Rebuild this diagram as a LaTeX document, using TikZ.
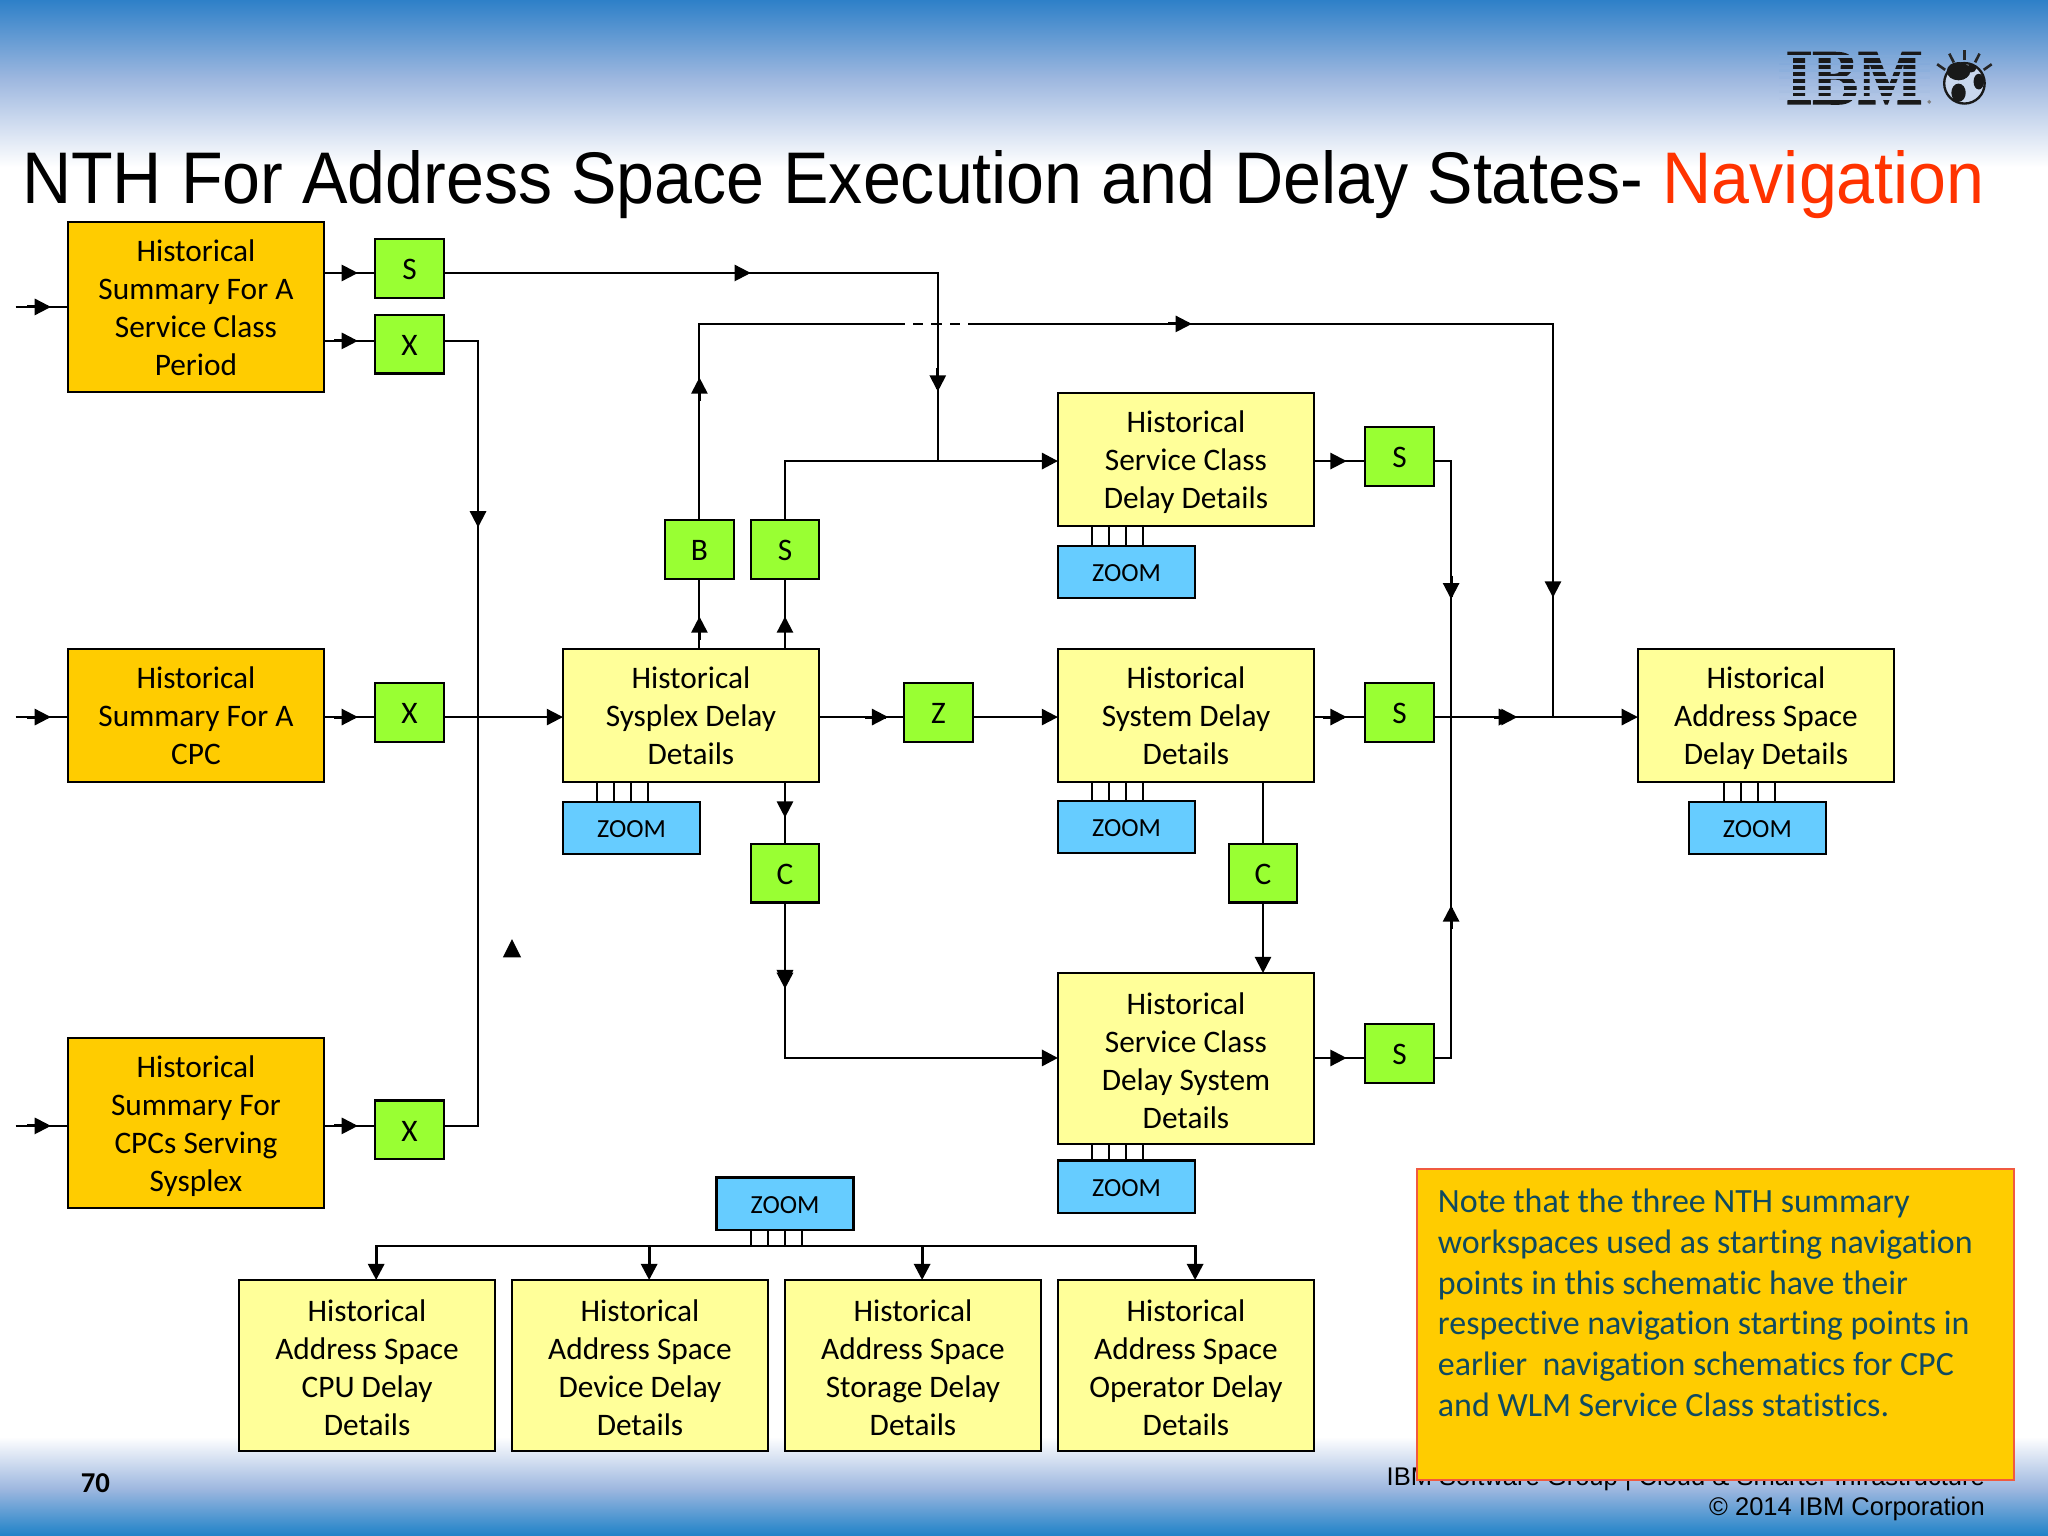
\documentclass[tikz,border=0pt]{standalone}
\usepackage{fontspec}
\setmainfont{Carlito}[Ligatures=NoCommon]
\newfontfamily\arialf{Liberation Sans}
\newfontfamily\titlef{Liberation Sans}[FakeStretch=0.932]
\newfontfamily\logof{Liberation Serif}[FakeStretch=0.87,FakeBold=2,BoldFont={* Bold}]
\usetikzlibrary{arrows.meta,decorations.markings,calc}
\definecolor{ibmtop}{HTML}{2E80C8}
\definecolor{ibmmid}{HTML}{9DB7DF}
\definecolor{ibmbot}{HTML}{1E82C8}
\definecolor{orangebox}{HTML}{FFCC00}
\definecolor{yellowbox}{HTML}{FFFF99}
\definecolor{greenbox}{HTML}{99FF33}
\definecolor{bluebox}{HTML}{66CCFF}
\definecolor{notered}{HTML}{F05A40}
\definecolor{noteink}{HTML}{0F4A60}
\definecolor{navred}{HTML}{FF3300}
\tikzset{
  bx/.style={draw=black,line width=.85pt,inner sep=0pt,outer sep=0pt,align=center,font=\fontsize{12}{14.5}\selectfont,text depth=0pt},
  threel/.style={text height=37.3pt},
  sumthree/.style={bx,threel,fill=orangebox,minimum width=98pt,minimum height=51pt},
  sumfour/.style={bx,text height=52.3pt,fill=orangebox,minimum width=98pt,minimum height=65pt},
  detthree/.style={bx,threel,fill=yellowbox,minimum width=98pt,minimum height=51pt},
  detfour/.style={bx,text height=53.3pt,fill=yellowbox,minimum width=98pt,minimum height=65.5pt},
  gbox/.style={bx,text height=8.6pt,fill=greenbox,minimum width=26.3pt,minimum height=22.5pt},
  zbox/.style={bx,text height=7.5pt,fill=bluebox,minimum width=52.5pt,minimum height=20pt,font=\fontsize{10}{12}\selectfont},
  conn/.style={draw=black,line width=.8pt},
  bold conn/.style={line width=1.1pt},
  arr/.style={conn,-{Triangle[length=6.2pt,width=6.2pt]}},
  tipat/.style={postaction={decorate,decoration={markings,mark=at position #1 with {\draw[line width=1.1pt] (-9pt,0) -- (-1pt,0); \arrow{Triangle[length=6.2pt,width=6.2pt]}}}}},
  zlink/.style={draw=black,line width=.7pt},
}
\begin{document}
\begin{tikzpicture}[x=0.5pt,y=-0.5pt]
\useasboundingbox (0,0) rectangle (1568,1176);
% background bands
\fill[white] (0,0) rectangle (1568,1176);
\shade[top color=ibmtop,bottom color=ibmmid] (0,0) rectangle (1568,60);
\shade[top color=ibmmid,bottom color=white] (0,60) rectangle (1568,128);
\shade[top color=white,bottom color=ibmmid] (0,1100) rectangle (1568,1140);
\shade[top color=ibmmid,bottom color=ibmbot] (0,1140) rectangle (1568,1176);
% logo
\node[anchor=base,inner sep=0pt,font=\logof\bfseries\fontsize{30}{30}\selectfont,text=black!90] (ibm) at (1419.5,79.5) {IBM};
\fill[ibmmid!72!ibmtop] (1362,42.1) rectangle (1478,44.7);
\fill[ibmmid!77!ibmtop] (1362,47.9) rectangle (1478,49.7);
\fill[ibmmid!85!ibmtop] (1362,52.9) rectangle (1478,55.2);
\fill[ibmmid!95!ibmtop] (1362,58.4) rectangle (1478,60.4);
\fill[white!5!ibmmid] (1362,63.5) rectangle (1478,66);
\fill[white!11!ibmmid] (1362,68.6) rectangle (1478,71.1);
\fill[white!20!ibmmid] (1362,73.7) rectangle (1478,76.7);
\fill[black!50] (1477,78) circle (1.5);
\filldraw[fill=white!45!ibmmid,draw=black!90,line width=.9pt] (1504,63.8) circle (15.5);
\fill[black!90] (1499.5,54.5) ellipse [x radius=9,y radius=7];
\fill[black!90] (1499.5,71) ellipse [x radius=5.5,y radius=7];
\fill[black!90] (1515,62.5) ellipse [x radius=4,y radius=6];
\fill[black!90] (1509,52.5) ellipse [x radius=4,y radius=3];
\foreach \a in {-145,-117,-90,-63,-35}
  \draw[black!85,line width=1pt] (1504,63.8) ++(\a:18) -- ++(\a:7.5);
% title
\node[anchor=base west,inner sep=0pt,font=\titlef\fontsize{28}{28}\selectfont] (title) at (16.5,156) {NTH For Address Space Execution and Delay States- \textcolor{navred}{Navigation}};
% footer
\node[anchor=base west,inner sep=0pt,font=\bfseries\fontsize{11}{11}\selectfont] (page) at (61.5,1143) {70};
\node[anchor=base east,inner sep=0pt,font=\arialf\fontsize{9.77}{10}\selectfont] (foota) at (1520,1137) {IBM Software Group | Cloud \& Smarter Infrastructure};
\node[anchor=base east,inner sep=0pt,font=\arialf\fontsize{9.77}{10}\selectfont] (footb) at (1520,1160) {© 2014 IBM Corporation};
% nodes
\node[sumfour] (A1) at (150,235) {Historical\\Summary For A\\Service Class\\Period};
\node[sumthree] (A2) at (150,548) {Historical\\Summary For A\\CPC};
\node[sumfour] (A3) at (150,860) {Historical\\Summary For\\CPCs Serving\\Sysplex};
\node[gbox] (S1) at (313.5,205.5) {S};
\node[gbox] (X1) at (313.5,263.5) {X};
\node[gbox] (X2) at (313.5,545.5) {X};
\node[gbox] (X3) at (313.5,865) {X};
\node[detthree] (Sys) at (529,548) {Historical\\Sysplex Delay\\Details};
\node[zbox] (Sysz) at (483.5,634) {ZOOM};
\node[gbox] (B) at (535.5,420.5) {B};
\node[gbox] (S2) at (601,420.5) {S};
\node[gbox] (Z) at (718.5,545.5) {Z};
\node[gbox] (C1) at (601,668.5) {C};
\node[detthree] (D1) at (908,352) {Historical\\Service Class\\Delay Details};
\node[zbox] (D1z) at (862.5,438) {ZOOM};
\node[gbox] (S3) at (1071.5,349.5) {S};
\node[detthree] (D2) at (908,548) {Historical\\System Delay\\Details};
\node[zbox] (D2z) at (862.5,633) {ZOOM};
\node[gbox] (S4) at (1071.5,545.5) {S};
\node[gbox] (C2) at (967,668.5) {C};
\node[detfour] (D3) at (908,810.5) {Historical\\Service Class\\Delay System\\Details};
\node[zbox] (D3z) at (862.5,908.5) {ZOOM};
\node[gbox] (S5) at (1071.5,806.5) {S};
\node[detthree] (AS) at (1352,548) {Historical\\Address Space\\Delay Details};
\node[zbox] (ASz) at (1345.5,634) {ZOOM};
\node[zbox] (Tz) at (601,921.5) {ZOOM};
\node[detfour] (E1) at (281,1045.5) {Historical\\Address Space\\CPU Delay\\Details};
\node[detfour] (E2) at (490,1045.5) {Historical\\Address Space\\Device Delay\\Details};
\node[detfour] (E3) at (699,1045.5) {Historical\\Address Space\\Storage Delay\\Details};
\node[detfour] (E4) at (908,1045.5) {Historical\\Address Space\\Operator Delay\\Details};
% note
\node[draw=notered,line width=.8pt,fill=orangebox,inner sep=0pt,minimum width=228.5pt,minimum height=119pt] (note) at (1313.5,1014) {};
\node[anchor=north west,inner sep=0pt,align=left,text=noteink,font=\fontsize{13}{15.6}\selectfont] (notetext) at (1100.5,910) {Note that the three NTH summary\\workspaces used as starting navigation\\points in this schematic have their\\respective navigation starting points in\\earlier\ \ navigation schematics for CPC\\and WLM Service Class statistics.};
% connectors
\coordinate (in1) at (12,235);
\coordinate (in2) at (12,549);
\coordinate (in3) at (12,862);
\draw[conn,tipat=13.5pt] (in1) -- (A1.west |- in1);
\draw[conn,tipat=13.5pt] (in2) -- (A2.west |- in2);
\draw[conn,tipat=13.5pt] (in3) -- (A3.west |- in3);
\draw[conn,tipat=13pt] (A1.east |- 0,209) -- (S1.west |- 0,209);
\draw[conn,tipat=13pt] (A1.east |- 0,261) -- (X1.west |- 0,261);
\draw[conn,tipat=13pt] (A2.east |- 0,549) -- (X2.west |- 0,549);
\draw[conn,tipat=13pt] (A3.east |- 0,862) -- (X3.west |- 0,862);
\coordinate (j1) at (718,353);
\draw[conn,tipat=117.5pt,tipat=234.5pt] (S1.east |- 0,209) -| (j1);
\coordinate (k1) at (366,862);
\draw[conn,tipat=84.5pt] (X1.east |- 0,261) -| (k1) -- (X3.east |- k1);
\draw[arr] (X2.east |- 0,549) -- (Sys.west |- 0,549);
\draw[conn,tipat=12.5pt] (B.south |- Sys.north) -- (B.south);
\draw[conn,tipat=12.5pt] (S2.south |- Sys.north) -- (S2.south);
\coordinate (k2) at (1189,549);
\draw[conn,tipat=54.5pt,tipat=263.5pt,tipat=506.5pt] (B.north) |- (k2 |- 0,248) -- (k2);
\draw[white,line width=.9pt,dash pattern=on 3pt off 4pt] (693,248) -- (745,248);
\draw[conn] (j1 |- 0,209) -- (j1);
\draw[arr,bold conn] (S2.north) |- (D1.west |- 0,353);
\draw[conn,tipat=26.5pt] (Sys.east |- 0,549) -- (Z.west |- 0,549);
\draw[arr] (Z.east |- 0,549) -- (D2.west |- 0,549);
\draw[conn,tipat=13.5pt] (C1.north |- Sys.south) -- (C1.north);
\draw[arr,bold conn,tipat=33pt] (C1.south) |- (D3.west |- 0,810);
\draw[conn,tipat=12.5pt] (D1.east |- 0,353) -- (S3.west |- 0,353);
\draw[conn,tipat=12.5pt] (D2.east |- 0,549) -- (S4.west |- 0,549);
\draw[conn,tipat=12.5pt] (D3.east |- 0,810) -- (S5.west |- 0,810);
\coordinate (k3) at (1111,549);
\draw[conn,tipat=59.5pt] (S3.east |- 0,353) -| (k3);
\draw[conn,tipat=65pt] (S5.east |- 0,810) -| (k3);
\draw[arr,tipat=32pt] (S4.east |- 0,549) -- (AS.west |- 0,549);
\draw[conn] (C2.north |- D2.south) -- (C2.north);
\draw[arr] (C2.south) -- (C2.south |- D3.north);
% zoom links
\foreach \x in {836,849,862,875} {
  \draw[zlink] (D1.south -| \x,0) -- (D1z.north -| \x,0);
  \draw[zlink] (D2.south -| \x,0) -- (D2z.north -| \x,0);
  \draw[zlink] (D3.south -| \x,0) -- (D3z.north -| \x,0);
}
\foreach \x in {457,470,483,496} \draw[zlink] (Sys.south -| \x,0) -- (Sysz.north -| \x,0);
\foreach \x in {1320,1333,1346,1359} \draw[zlink] (AS.south -| \x,0) -- (ASz.north -| \x,0);
\coordinate (bus) at (601,954);
\foreach \x in {575,588,601,614} \draw[zlink] (Tz.south -| \x,0) -- (bus -| \x,0);
\foreach \n in {E1,E2,E3,E4} \draw[arr,bold conn] (bus) -| ([xshift=3.5pt]\n.north);
% stray arrowhead
\fill (385,733) -- (392,719) -- (399,733) -- cycle;
\end{tikzpicture}
\end{document}
